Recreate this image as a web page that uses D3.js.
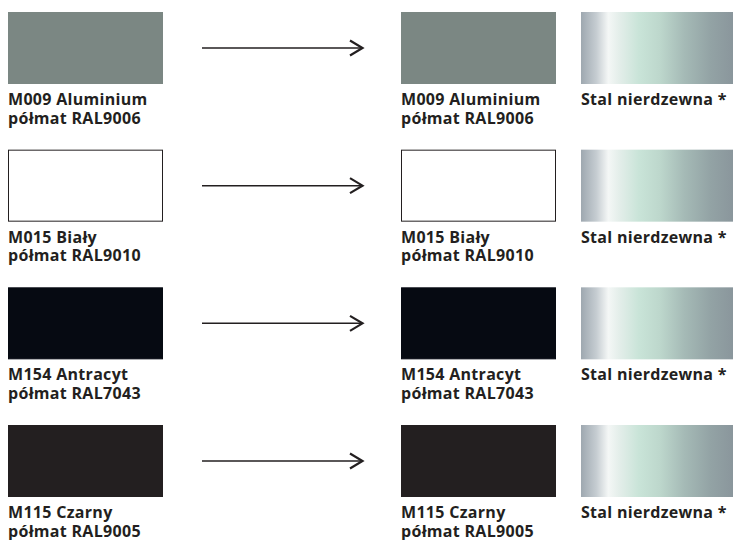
<!DOCTYPE html>
<html>
<head>
<meta charset="utf-8">
<script src="https://cdn.jsdelivr.net/npm/d3@7"></script>
<style>
  body { margin: 0; background: #fff; }
  text { font-family: "Open Sans", "Lato", sans-serif; font-weight: bold; fill: #231f20; font-size: 16px; letter-spacing: 0.3px; }
</style>
</head>
<body>
<svg width="734" height="540"></svg>
<script>
'use strict';

// colour names, RAL codes and swatch colours
var codes = ["M009 Aluminium", "M015 Biały", "M154 Antracyt", "M115 Czarny"];
var ral = ["półmat RAL9006", "półmat RAL9010", "półmat RAL7043", "półmat RAL9005"];
var colours = ["#7b8783", "#ffffff", "#060a12", "#231f20"];
var steelLabel = "Stal nierdzewna *";

// stops of the brushed steel gradient
var steelStops = [
	{offset: 0, color: "#9ea8b0"},
	{offset: 0.1, color: "#c5ccd1"},
	{offset: 0.18, color: "#f4f7f6"},
	{offset: 0.25, color: "#e4eeea"},
	{offset: 0.38, color: "#c9e4d8"},
	{offset: 0.52, color: "#bdd7cc"},
	{offset: 0.68, color: "#a5bab6"},
	{offset: 0.85, color: "#93a3a5"},
	{offset: 1, color: "#8a969c"}
];

var svg = d3.select("svg");
var rows = d3.range(codes.length);

// vertical position of every row
var y = d3.scalePoint().domain(rows).range([12, 425]);
var swW = 155, swH = 72;
// left edges of the columns: source swatch, target swatch, steel swatch
var colX = {src: 8, tgt: 401, steel: 581};

var grad = svg.append("defs").append("linearGradient")
	.attr("id", "steel")
	.attr("x1", "0%").attr("x2", "100%")
	.attr("y1", "0%").attr("y2", "0%");
grad.selectAll("stop")
	.data(steelStops)
	.enter().append("stop")
		.attr("offset", function(d) { return d.offset; })
		.attr("stop-color", function(d) { return d.color; });

var row = svg.selectAll(".row")
	.data(rows)
	.enter().append("g")
		.attr("class", "row")
		.attr("transform", function(d) { return "translate(0," + y(d) + ")"; });

// colour swatch with its two label lines, in both columns
["src", "tgt"].forEach(function(col) {
	row.append("rect")
		.attr("x", colX[col] + 0.5)
		.attr("y", 0.5)
		.attr("width", swW - 1)
		.attr("height", swH - 1)
		.attr("fill", function(d) { return colours[d]; })
		.attr("stroke", function(d) { return colours[d] === "#ffffff" ? "#231f20" : colours[d]; });

	row.append("text")
		.attr("x", colX[col])
		.attr("y", swH + 21)
		.text(function(d) { return codes[d]; });

	row.append("text")
		.attr("x", colX[col])
		.attr("y", swH + 39.5)
		.text(function(d) { return ral[d]; });
});

// stainless steel column
row.append("rect")
	.attr("x", colX.steel)
	.attr("y", 0)
	.attr("width", 152)
	.attr("height", swH)
	.attr("fill", "url(#steel)");

row.append("text")
	.attr("x", colX.steel)
	.attr("y", swH + 21)
	.text(steelLabel);

// arrows between the two swatches
var ay = swH / 2;
row.append("line")
	.attr("x1", 202).attr("x2", 362)
	.attr("y1", ay).attr("y2", ay)
	.attr("stroke", "#231f20")
	.attr("stroke-width", 1.5);

row.append("path")
	.attr("d", "M350," + (ay - 7.5) + "L362.5," + ay + "L350," + (ay + 7.5))
	.attr("fill", "none")
	.attr("stroke", "#231f20")
	.attr("stroke-width", 2.2);
</script>
</body>
</html>
